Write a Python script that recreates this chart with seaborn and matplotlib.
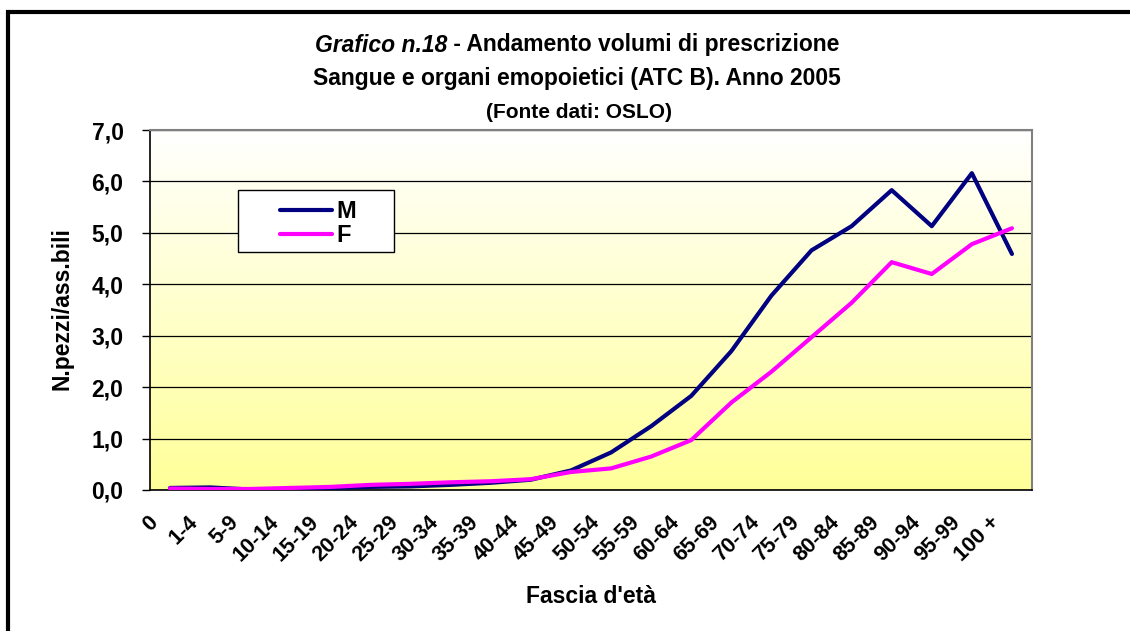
import numpy as np
import pandas as pd
import matplotlib
matplotlib.use('Agg')
import matplotlib.pyplot as plt
import matplotlib.transforms as mtransforms
from matplotlib.patches import Rectangle
from matplotlib.colors import LinearSegmentedColormap
import seaborn as sns

sns.set_style('white')
plt.rcParams['font.family'] = ['Liberation Sans', 'DejaVu Sans']
plt.rcParams['font.weight'] = 'bold'
plt.rcParams['text.color'] = 'black'
plt.rcParams['axes.labelcolor'] = 'black'
plt.rcParams['xtick.color'] = 'black'
plt.rcParams['ytick.color'] = 'black'

# dati
fasce = ['0', '1-4', '5-9', '10-14', '15-19', '20-24', '25-29', '30-34', '35-39', '40-44',
         '45-49', '50-54', '55-59', '60-64', '65-69', '70-74', '75-79', '80-84', '85-89',
         '90-94', '95-99', '100 +']
maschi = [0.04, 0.05, 0.01, 0.02, 0.04, 0.06, 0.07, 0.10, 0.14, 0.20, 0.38, 0.73, 1.24, 1.83,
          2.70, 3.78, 4.66, 5.13, 5.83, 5.13, 6.16, 4.59]
femmine = [0.03, 0.02, 0.02, 0.04, 0.06, 0.10, 0.12, 0.15, 0.17, 0.21, 0.35, 0.42, 0.65, 0.97,
           1.70, 2.30, 2.97, 3.64, 4.43, 4.20, 4.78, 5.09]
sessi = ['M', 'F']
colori = {'M': '#000080', 'F': '#FF00FF'}
y_ticks = [0, 1, 2, 3, 4, 5, 6, 7]

df = pd.DataFrame({
    'fascia': fasce * 2,
    'valore': maschi + femmine,
    'sesso': ['M'] * len(fasce) + ['F'] * len(fasce),
})

fig = plt.figure(figsize=(11.3, 6.31), dpi=100)
ax = fig.add_axes([150 / 1130, 1 - 490 / 631, 882 / 1130, 360 / 631])

# sfondo sfumato bianco -> giallo
cmap = LinearSegmentedColormap.from_list('sfondo', ['#FFFF99', '#FFFFFF'])
grad = np.linspace(0, 1, 256).reshape(-1, 1)
ax.imshow(grad, extent=[0, 1, 0, 1], transform=ax.transAxes, cmap=cmap,
          aspect='auto', origin='lower', zorder=-2)

sns.lineplot(data=df, x='fascia', y='valore', hue='sesso', hue_order=sessi,
             palette=colori, linewidth=3, sort=False, ax=ax, zorder=3)

ax.set_xlim(-0.5, len(fasce) - 0.5)
ax.set_ylim(0, 7)
ax.set_yticks(y_ticks)
ax.set_yticklabels([f'{v:.1f}'.replace('.', ',') for v in y_ticks], fontsize=16.5, fontweight='bold')
ax.grid(axis='y', color='black', linewidth=0.9)
ax.grid(axis='x', visible=False)
ax.set_axisbelow(True)

ax.set_xticks(range(len(fasce)))
ax.set_xticks(np.arange(-0.5, len(fasce)), minor=True)
ax.set_xticklabels(fasce, rotation=45, ha='right', va='center', rotation_mode='anchor',
                   fontsize=15.5, fontweight='bold')
ax.tick_params(axis='x', which='major', length=0, pad=21)
ax.tick_params(axis='x', which='minor', length=5, width=1, color='black', direction='out')
ax.tick_params(axis='y', length=6, width=1, color='black', direction='out', pad=13, left=True)
shift = mtransforms.ScaledTranslation(-15 / 100, 0, fig.dpi_scale_trans)
for lab in ax.get_xticklabels():
    lab.set_transform(lab.get_transform() + shift)

for s in ['top', 'right']:
    ax.spines[s].set_color('#808080')
    ax.spines[s].set_linewidth(1.5)
for s in ['left', 'bottom']:
    ax.spines[s].set_color('black')
    ax.spines[s].set_linewidth(1.2)

ax.set_xlabel("Fascia d'età", fontsize=16.5, fontweight='bold')
ax.set_ylabel('N.pezzi/ass.bili', fontsize=16.5, fontweight='bold')
ax.xaxis.set_label_coords(0.5, -0.265)
ax.yaxis.set_label_coords(-0.087, 0.505)

# legenda
ax.add_patch(Rectangle(((238 - 150) / 882, (490 - 252) / 360), 156 / 882, 62 / 360,
                       transform=ax.transAxes, facecolor='white', edgecolor='black',
                       linewidth=1, zorder=4))
handles, labels = ax.get_legend_handles_labels()
leg = ax.legend(handles, labels, loc='upper left', bbox_to_anchor=((280 - 150) / 882, (490 - 200) / 360),
                frameon=False, borderpad=0, borderaxespad=0, handlelength=2.2, handletextpad=0.2,
                labelspacing=0.05, prop={'size': 17, 'weight': 'bold'})
leg.set_zorder(5)

# titolo
t1a = fig.text(0, 1 - 45 / 631, 'Grafico n.18', fontsize=16.5, fontweight='bold', style='italic',
               ha='left', va='center')
t1b = fig.text(0, 1 - 45 / 631, ' - Andamento volumi di prescrizione', fontsize=16.5,
               fontweight='bold', ha='left', va='center')
fig.text(577 / 1130, 1 - 79 / 631, 'Sangue e organi emopoietici (ATC B). Anno 2005', fontsize=16.5,
         fontweight='bold', ha='center', va='center')
fig.text(579 / 1130, 1 - 113 / 631, '(Fonte dati: OSLO)', fontsize=15, fontweight='bold',
         ha='center', va='center')
fig.canvas.draw()
r = fig.canvas.get_renderer()
wa = t1a.get_window_extent(r).width
wb = t1b.get_window_extent(r).width
x0 = 577 - (wa + wb) / 2
t1a.set_x(x0 / 1130)
t1b.set_x((x0 + wa) / 1130)

# cornice esterna
fig.patches.append(Rectangle((8 / 1130, -0.1), 2, 1 - 12 / 631 + 0.1, transform=fig.transFigure,
                             fill=False, edgecolor='black', linewidth=3))

fig.savefig('out.png', dpi=100)
